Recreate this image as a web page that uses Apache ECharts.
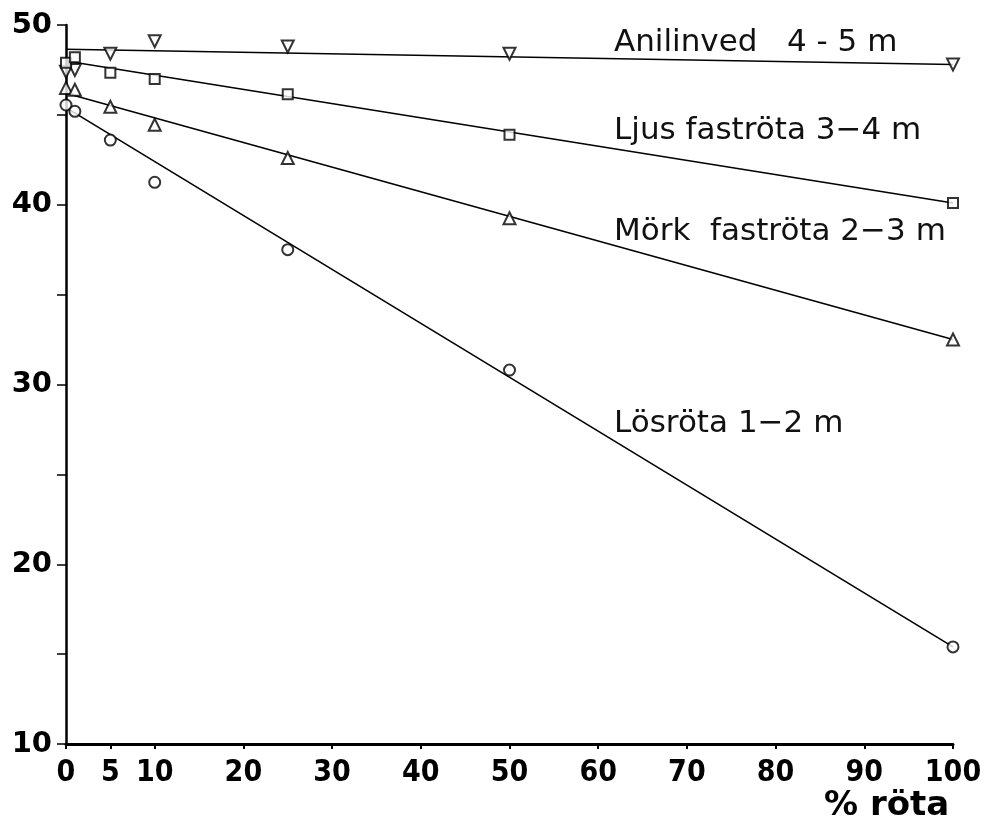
<!DOCTYPE html>
<html>
<head>
<meta charset="utf-8">
<script src="https://cdn.jsdelivr.net/npm/echarts@6/dist/echarts.min.js"></script>
<style>
  html, body { margin: 0; padding: 0; background: #fff; }
  #chart { width: 986px; height: 824px; }
</style>
</head>
<body>
<div id="chart"></div>
<script>
// x ticks and y ticks
var xTicks = [0, 5, 10, 20, 30, 40, 50, 60, 70, 80, 90, 100];
var yLabels = [10, 20, 30, 40, 50];

// measured points: [% röta, value]
var anilinved = [[0, 47.4], [1, 47.5], [5, 48.4], [10, 49.1], [25, 48.8], [50, 48.4], [100, 47.8]];
var ljus = [[0, 47.9], [1, 48.2], [5, 47.35], [10, 47.0], [25, 46.15], [50, 43.9], [100, 40.1]];
var mork = [[0, 46.5], [1, 46.4], [5, 45.45], [10, 44.45], [25, 42.6], [50, 39.25], [100, 32.5]];
var losrota = [[0, 45.55], [1, 45.2], [5, 43.6], [10, 41.25], [25, 37.5], [50, 30.8], [100, 15.4]];

// fitted lines
var fitAnil = [[0, 48.65], [100, 47.8]];
var fitLjus = [[0, 48.0], [100, 40.1]];
var fitMork = [[0, 46.2], [100, 32.5]];
var fitLos = [[0, 45.4], [100, 15.4]];

var seriesNames = ['Anilinved   4 - 5 m', 'Ljus faströta 3−4 m', 'Mörk  faströta 2−3 m', 'Lösröta 1−2 m'];

var myChart = echarts.init(document.getElementById('chart'));

function pts(data, symbol, size, rotate) {
  return {
    type: 'scatter',
    data: data,
    symbol: symbol,
    symbolSize: size,
    symbolRotate: rotate || 0,
    itemStyle: { color: '#fff', borderColor: '#000', borderWidth: 2 },
    z: 3
  };
}
function fit(data) {
  return {
    type: 'line',
    data: data,
    symbol: 'none',
    lineStyle: { color: '#000', width: 1.6 },
    z: 2
  };
}

var labelFont = '"DejaVu Sans", sans-serif';

var option = {
  backgroundColor: '#fff',
  animation: false,
  grid: { left: 66, right: 33, top: 25, bottom: 80 },
  xAxis: {
    type: 'value',
    min: 0,
    max: 100,
    axisLine: { lineStyle: { color: '#000', width: 3 } },
    axisTick: { customValues: xTicks, length: 5, lineStyle: { color: '#000', width: 2 } },
    axisLabel: {
      customValues: xTicks,
      margin: 14,
      color: '#000',
      fontSize: 30,
      fontWeight: 'bold',
      fontFamily: '"Liberation Sans Narrow", "DejaVu Sans Condensed", sans-serif'
    },
    splitLine: { show: false }
  },
  yAxis: {
    type: 'value',
    min: 10,
    max: 50,
    interval: 5,
    axisLine: { show: true, lineStyle: { color: '#000', width: 2.5 } },
    axisTick: { length: 9, lineStyle: { color: '#000', width: 1.5 } },
    axisLabel: {
      margin: 14,
      color: '#000',
      fontSize: 29,
      fontWeight: 'bold',
      fontFamily: '"DejaVu Sans", sans-serif',
      formatter: function (v) { return yLabels.indexOf(v) >= 0 ? String(v) : ''; }
    },
    splitLine: { show: false }
  },
  graphic: [
    { type: 'text', left: 614, top: 27, style: { text: seriesNames[0], fontSize: 31, fontFamily: labelFont, fill: '#111' } },
    { type: 'text', left: 614, top: 115, style: { text: seriesNames[1], fontSize: 31, fontFamily: labelFont, fill: '#111' } },
    { type: 'text', left: 614, top: 216, style: { text: seriesNames[2], fontSize: 31, fontFamily: labelFont, fill: '#111' } },
    { type: 'text', left: 614, top: 408, style: { text: seriesNames[3], fontSize: 31, fontFamily: labelFont, fill: '#111' } },
    { type: 'text', left: 824, top: 789, style: { text: '% röta', fontSize: 34, fontWeight: 'bold', fontFamily: '"DejaVu Sans", sans-serif', fill: '#000' } }
  ],
  series: [
    fit(fitAnil), fit(fitLjus), fit(fitMork), fit(fitLos),
    pts(anilinved, 'triangle', 12, 180),
    pts(ljus, 'rect', 10),
    pts(mork, 'triangle', 12),
    pts(losrota, 'circle', 11)
  ]
};

myChart.setOption(option);
</script>
</body>
</html>
